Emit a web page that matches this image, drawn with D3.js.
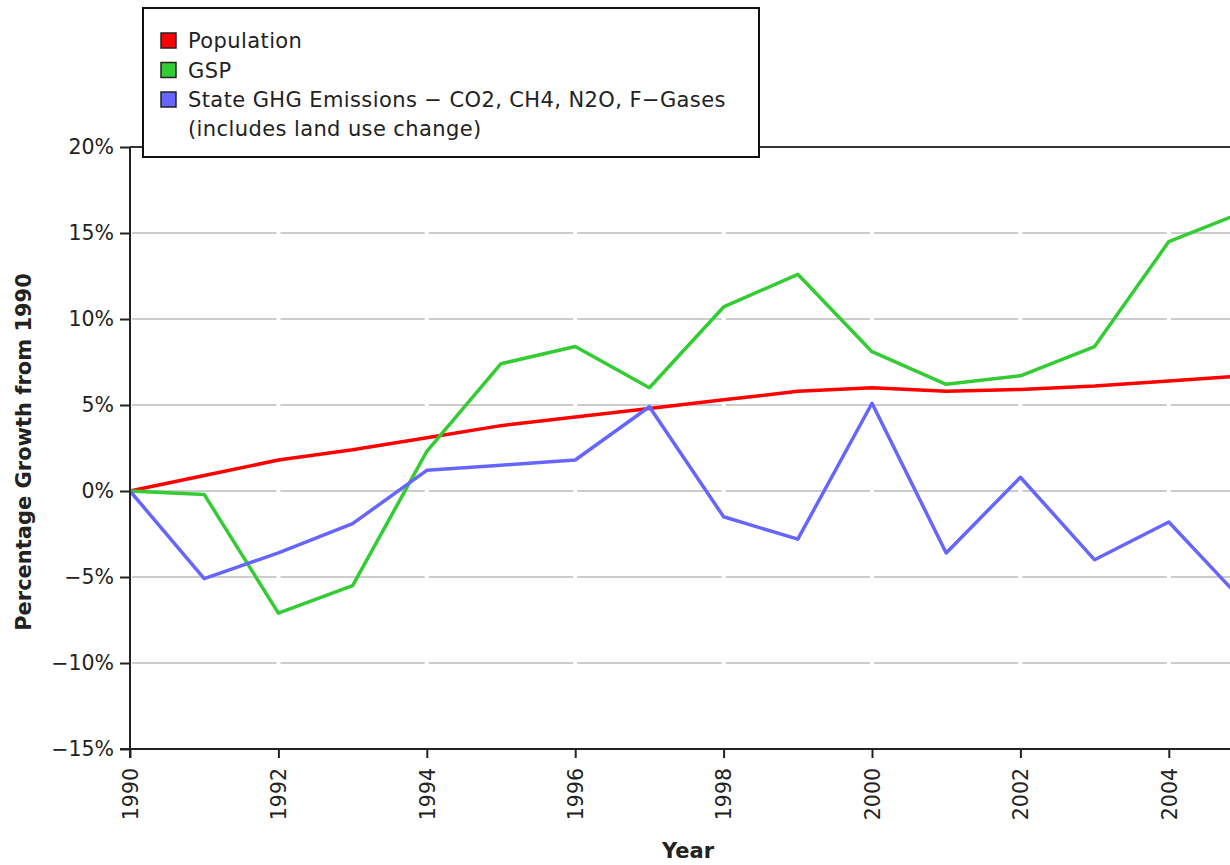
<!DOCTYPE html>
<html>
<head>
<meta charset="utf-8">
<script src="https://cdn.jsdelivr.net/npm/d3@7"></script>
<style>
  body { margin: 0; background: #fff; }
  text { font-family: "DejaVu Sans", sans-serif; fill: #222; }
</style>
</head>
<body>
<script>
'use strict';

// data, % growth from 1990
const years = [1990, 1991, 1992, 1993, 1994, 1995, 1996, 1997, 1998, 1999, 2000, 2001, 2002, 2003, 2004, 2005];
const population = [0, 0.9, 1.8, 2.4, 3.1, 3.8, 4.3, 4.8, 5.3, 5.8, 6.0, 5.8, 5.9, 6.1, 6.4, 6.7];
const gsp = [0, -0.2, -7.1, -5.5, 2.3, 7.4, 8.4, 6.0, 10.7, 12.6, 8.1, 6.2, 6.7, 8.4, 14.5, 16.2];
const emissions = [0, -5.1, -3.6, -1.9, 1.2, 1.5, 1.8, 4.9, -1.5, -2.8, 5.1, -3.6, 0.8, -4.0, -1.8, -6.4];
const yTicks = [-15, -10, -5, 0, 5, 10, 15, 20];
const xTicks = [1990, 1992, 1994, 1996, 1998, 2000, 2002, 2004];

const series = [
    { name: "Population", values: population, color: "#ff0000" },
    { name: "GSP", values: gsp, color: "#33cc33" },
    { name: "State GHG Emissions \u2212 CO2, CH4, N2O, F\u2212Gases", sub: "(includes land use change)", values: emissions, color: "#6666ff" }
];

const width = 1230, height = 865;
const plotLeft = 130, plotTop = 147, plotBottom = 749;

const svg = d3.select("body").append("svg")
    .attr("width", width)
    .attr("height", height);

let x = d3.scaleLinear().domain([1990, 2005]).range([plotLeft, plotLeft + 15 * 74.2]);
let y = d3.scaleLinear().domain([-15, 20]).range([plotBottom, plotTop]);

// grid, broken at every labelled year
let gaps = xTicks.map(x).concat([x(2006)]);
let grid = svg.append("g").attr("stroke", "#cccccc").attr("stroke-width", 2);
yTicks.filter(d => d > -15 && d < 20).forEach(function(v) {
    for (let i = 0; i < gaps.length - 1; i++) {
        grid.append("line")
            .attr("x1", gaps[i] + 2).attr("x2", gaps[i + 1] - 2)
            .attr("y1", y(v)).attr("y2", y(v));
    }
});

// top frame line
svg.append("line")
    .attr("x1", plotLeft).attr("x2", width)
    .attr("y1", plotTop).attr("y2", plotTop)
    .attr("stroke", "#333").attr("stroke-width", 2);

// lines
let line = d3.line()
    .x((d, i) => x(years[i]))
    .y(d => y(d));

svg.append("g").selectAll("path")
    .data(series)
    .enter().append("path")
    .attr("fill", "none")
    .attr("stroke", d => d.color)
    .attr("stroke-width", 3.5)
    .attr("stroke-linejoin", "round")
    .attr("d", d => line(d.values));

// axes
let yAxis = svg.append("g")
    .attr("transform", "translate(" + plotLeft + ",0)")
    .call(d3.axisLeft(y).tickValues(yTicks).tickSize(10).tickPadding(6).tickFormat(d => d3.format("d")(d).replace("-", "\u2212") + "%"));
yAxis.select(".domain").remove();
yAxis.selectAll(".tick line").attr("stroke", "#222").attr("stroke-width", 2);
yAxis.selectAll("text").style("font-size", "20.5px").attr("fill", "#222");
svg.append("line")
    .attr("x1", plotLeft).attr("x2", plotLeft)
    .attr("y1", plotTop).attr("y2", plotBottom + 9)
    .attr("stroke", "#222").attr("stroke-width", 2);

let xAxis = svg.append("g")
    .attr("transform", "translate(0," + plotBottom + ")")
    .call(d3.axisBottom(x).tickValues(xTicks).tickSize(9).tickFormat(d3.format("d")));
xAxis.select(".domain").remove();
xAxis.selectAll(".tick line").attr("stroke", "#222").attr("stroke-width", 2);
xAxis.selectAll("text")
    .style("font-size", "20.5px")
    .attr("fill", "#222")
    .attr("text-anchor", "end")
    .attr("transform", "rotate(-90)")
    .attr("x", -19)
    .attr("y", 0)
    .attr("dy", "0.36em");
svg.append("line")
    .attr("x1", plotLeft - 10).attr("x2", width)
    .attr("y1", plotBottom).attr("y2", plotBottom)
    .attr("stroke", "#222").attr("stroke-width", 2);

// axis titles
svg.append("text")
    .attr("transform", "translate(31,452) rotate(-90)")
    .attr("text-anchor", "middle")
    .style("font-size", "21px")
    .style("font-weight", "bold")
    .text("Percentage Growth from 1990");

svg.append("text")
    .attr("x", 688)
    .attr("y", 858)
    .attr("text-anchor", "middle")
    .style("font-size", "21px")
    .style("font-weight", "bold")
    .text("Year");

// legend
let legend = svg.append("g").attr("transform", "translate(143,8)");
legend.append("rect")
    .attr("width", 616).attr("height", 149)
    .attr("fill", "#fff").attr("stroke", "#111").attr("stroke-width", 2);

let item = legend.selectAll("g.item")
    .data(series)
    .enter().append("g")
    .attr("class", "item")
    .attr("transform", (d, i) => "translate(18," + (25 + i * 29.5) + ")");

item.append("rect")
    .attr("width", 15).attr("height", 15)
    .attr("fill", d => d.color)
    .attr("stroke", "#222").attr("stroke-width", 1.5);

item.append("text")
    .attr("x", 27).attr("y", 15)
    .style("font-size", "21px")
    .style("letter-spacing", "0.4px")
    .text(d => d.name);

item.filter(d => d.sub).append("text")
    .attr("x", 27).attr("y", 44)
    .style("font-size", "21px")
    .style("letter-spacing", "0.4px")
    .text(d => d.sub);
</script>
</body>
</html>
